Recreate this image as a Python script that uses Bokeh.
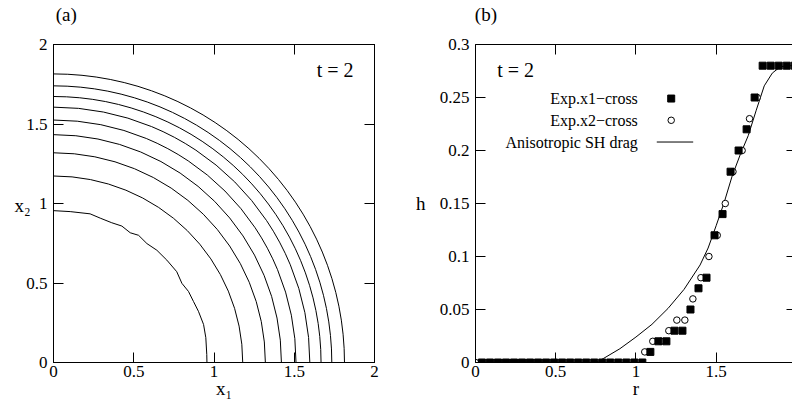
from bokeh.plotting import figure
from bokeh.layouts import row
from bokeh.models import Range1d, FixedTicker, LinearAxis, Label
from bokeh.embed import file_html
from bokeh.resources import INLINE

FONT = "Liberation Serif"

# ---------------- panel (a) data ----------------
A_TICKS = [0, 0.5, 1, 1.5, 2]
A_TICK_LABELS = ["0", "0.5", "1", "1.5", "2"]
# outer contours: intercept radii along x1 and x2
A_RX = [1.179, 1.320, 1.420, 1.511, 1.597, 1.667, 1.734, 1.813]
A_RY = [1.173, 1.319, 1.433, 1.525, 1.606, 1.673, 1.740, 1.815]
# innermost (ragged) contour
A_INNER_X = [0.0, 0.104, 0.228, 0.291, 0.363, 0.426, 0.478, 0.530, 0.582, 0.644,
             0.706, 0.768, 0.800, 0.841, 0.872, 0.903, 0.935, 0.949, 0.955, 0.956]
A_INNER_Y = [0.955, 0.949, 0.935, 0.908, 0.879, 0.858, 0.816, 0.800, 0.748, 0.706,
             0.644, 0.571, 0.498, 0.447, 0.384, 0.322, 0.239, 0.156, 0.05, 0.0]

# ---------------- panel (b) data ----------------
B_XTICKS = [0, 0.5, 1, 1.5, 2]
B_XTICK_LABELS = ["0", "0.5", "1", "1.5", "2"]
B_YTICKS = [0, 0.05, 0.1, 0.15, 0.2, 0.25, 0.3]
B_YTICK_LABELS = ["0", "0.05", "0.1", "0.15", "0.2", "0.25", "0.3"]

X1_R = [0.04, 0.09, 0.14, 0.19, 0.24, 0.29, 0.34, 0.39, 0.44, 0.49, 0.54,
        0.59, 0.64, 0.69, 0.74, 0.79, 0.84, 0.89, 0.94, 0.99, 1.04,
        1.09, 1.14, 1.19, 1.24, 1.29, 1.34, 1.39, 1.44, 1.49, 1.54,
        1.59, 1.64, 1.69, 1.74, 1.79, 1.84, 1.89, 1.94, 1.99]
X1_H = [0] * 21 + [0.01, 0.02, 0.02, 0.03, 0.03, 0.05, 0.07, 0.08, 0.12, 0.14,
                   0.18, 0.20, 0.22, 0.25, 0.28, 0.28, 0.28, 0.28, 0.28]

X2_R = [0.0, 1.055, 1.105, 1.155, 1.205, 1.255, 1.305, 1.355, 1.405, 1.455,
        1.507, 1.557, 1.605, 1.662, 1.708, 1.756]
X2_H = [0.0, 0.01, 0.02, 0.02, 0.03, 0.04, 0.04, 0.06, 0.08, 0.10,
        0.12, 0.15, 0.18, 0.20, 0.23, 0.25]

SH_R = [0.75, 0.8, 0.9, 1.0, 1.1, 1.2, 1.3, 1.4, 1.45, 1.5, 1.55, 1.6,
        1.65, 1.7, 1.75, 1.8, 1.85, 1.9, 1.95, 2.0]
SH_H = [0.0, 0.004, 0.013, 0.024, 0.036, 0.051, 0.069, 0.092, 0.108, 0.129,
        0.151, 0.176, 0.196, 0.214, 0.238, 0.261, 0.273, 0.279, 0.28, 0.28]

LEGEND_LABELS = ["Exp.x1\u2212cross", "Exp.x2\u2212cross", "Anisotropic SH drag"]

# axis titles / panel tags (text, data position along the axis)
A_TAG, A_TAG_AT = "(a)", 0.079
A_XLABEL, A_XLABEL_AT = "x\u2081", 1.063
A_YLABEL, A_YLABEL_AT = "x\u2082", 0.985
B_TAG, B_TAG_AT = "(b)", 0.065
B_XLABEL, B_XLABEL_AT = "r", 1.0
B_YLABEL, B_YLABEL_AT = "h", 0.15


def style_axis(ax, ticks, labels, standoff):
    ax.ticker = FixedTicker(ticks=ticks)
    ax.major_label_overrides = {t: s for t, s in zip(ticks, labels)}
    ax.major_tick_in = 10
    ax.major_tick_out = 0
    ax.minor_tick_in = 0
    ax.minor_tick_out = 0
    ax.major_tick_line_color = "black"
    ax.axis_line_color = "black"
    ax.major_label_text_font = FONT
    ax.major_label_text_font_size = "17px"
    ax.major_label_text_color = "black"
    ax.major_label_standoff = standoff


def blank_axis(ticks, tick_in):
    ax = LinearAxis(ticker=FixedTicker(ticks=ticks))
    ax.major_label_text_font_size = "0px"
    ax.major_label_text_color = None
    ax.major_label_standoff = 0
    ax.major_tick_in = tick_in
    ax.major_tick_out = 0
    ax.minor_tick_in = 0
    ax.minor_tick_out = 0
    ax.major_tick_line_color = "black"
    ax.axis_line_color = "black"
    return ax


def text_axis(at, text, size, standoff):
    ax = LinearAxis(ticker=FixedTicker(ticks=[at]))
    ax.major_label_overrides = {at: text}
    ax.major_label_text_font = FONT
    ax.major_label_text_font_size = size
    ax.major_label_text_color = "black"
    ax.major_label_standoff = standoff
    ax.major_tick_in = 0
    ax.major_tick_out = 0
    ax.minor_tick_in = 0
    ax.minor_tick_out = 0
    ax.major_tick_line_color = None
    ax.minor_tick_line_color = None
    ax.axis_line_color = None
    return ax


# ================= panel (a) =================
pa = figure(width=400, height=405, x_range=Range1d(0, 2), y_range=Range1d(0, 2),
            toolbar_location=None, output_backend="svg",
            min_border_left=53, min_border_right=26, min_border_top=42, min_border_bottom=43)
pa.background_fill_color = "white"
pa.border_fill_color = "white"
pa.xgrid.visible = False
pa.ygrid.visible = False
pa.outline_line_color = "black"
style_axis(pa.xaxis[0], A_TICKS, A_TICK_LABELS, 3)
style_axis(pa.yaxis[0], A_TICKS, A_TICK_LABELS, 6)
pa.add_layout(blank_axis(A_TICKS, 10), "above")
pa.add_layout(blank_axis(A_TICKS, 10), "right")
pa.add_layout(text_axis(A_TAG_AT, A_TAG, "19px", 20), "above")
pa.add_layout(text_axis(A_XLABEL_AT, A_XLABEL, "19px", -2), "below")
pa.add_layout(text_axis(A_YLABEL_AT, A_YLABEL, "19px", -7), "left")

pa.ellipse(x=[0] * len(A_RX), y=[0] * len(A_RY),
           width=[2 * r for r in A_RX], height=[2 * r for r in A_RY],
           fill_color=None, line_color="black", line_width=1)
pa.line(A_INNER_X, A_INNER_Y, line_color="black", line_width=1)

pa.add_layout(Label(x=1.64, y=1.842, text="t = 2", text_font=FONT, text_font_size="20px",
                    text_color="black", text_baseline="alphabetic", text_align="left"))

# ================= panel (b) =================
pb = figure(width=392, height=405, x_range=Range1d(0, 1.976), y_range=Range1d(0, 0.3),
            toolbar_location=None, output_backend="svg",
            min_border_left=75, min_border_right=0, min_border_top=42, min_border_bottom=43)
pb.background_fill_color = "white"
pb.border_fill_color = "white"
pb.xgrid.visible = False
pb.ygrid.visible = False
pb.outline_line_color = None
style_axis(pb.xaxis[0], B_XTICKS, B_XTICK_LABELS, 3)
style_axis(pb.yaxis[0], B_YTICKS, B_YTICK_LABELS, 6)
pb.add_layout(blank_axis(B_XTICKS, 10), "above")
rax = blank_axis(B_YTICKS, 6)
rax.axis_line_color = None
pb.add_layout(rax, "right")
pb.add_layout(text_axis(B_TAG_AT, B_TAG, "19px", 20), "above")
pb.add_layout(text_axis(B_XLABEL_AT, B_XLABEL, "19px", -2), "below")
pb.add_layout(text_axis(B_YLABEL_AT, B_YLABEL, "19px", 11), "left")

pb.line(SH_R, SH_H, line_color="black", line_width=1)
pb.scatter(X2_R, X2_H, marker="circle", size=6.5, fill_color="white",
           line_color="black", line_width=1)
pb.scatter(X1_R, X1_H, marker="square", size=7, fill_color="black",
           line_color="black", line_width=1)

# legend (text on the left, sample on the right)
LEG_TEXT_R = 1.012
LEG_SAMPLE_R = 1.22
LEG_ROW_H = [0.249, 0.2285, 0.208]
for txt, hh in zip(LEGEND_LABELS, LEG_ROW_H):
    pb.add_layout(Label(x=LEG_TEXT_R, y=hh, text=txt, text_font=FONT, text_font_size="16px",
                        text_color="black", text_baseline="middle", text_align="right"))
pb.scatter([LEG_SAMPLE_R], [LEG_ROW_H[0]], marker="square", size=7, fill_color="black",
           line_color="black")
pb.scatter([LEG_SAMPLE_R], [LEG_ROW_H[1]], marker="circle", size=6.5, fill_color="white",
           line_color="black")
pb.line([LEG_SAMPLE_R - 0.09, LEG_SAMPLE_R + 0.137], [LEG_ROW_H[2], LEG_ROW_H[2]],
        line_color="black", line_width=1)

pb.add_layout(Label(x=0.135, y=0.276, text="t = 2", text_font=FONT, text_font_size="20px",
                    text_color="black", text_baseline="alphabetic", text_align="left"))

layout = row(pa, pb)
open("out.html", "w").write(file_html(layout, INLINE))
